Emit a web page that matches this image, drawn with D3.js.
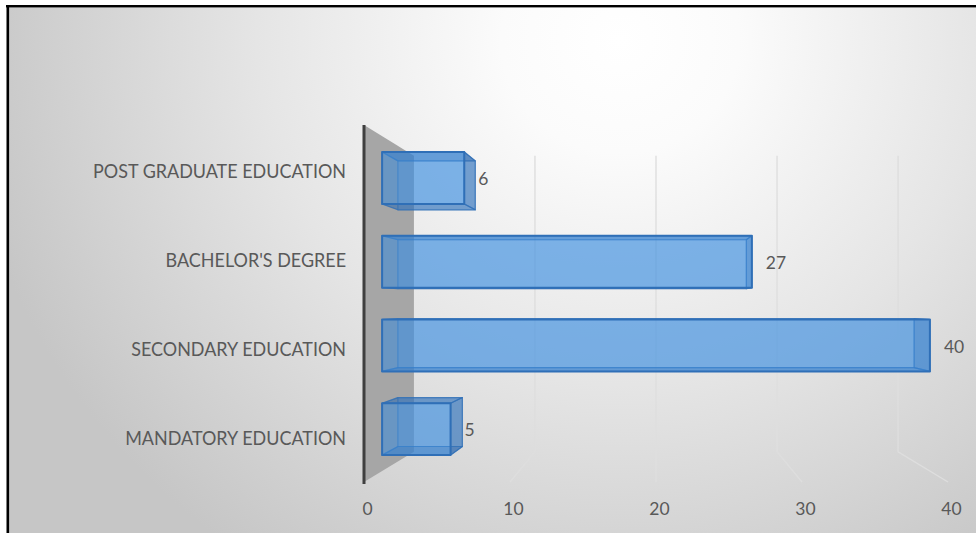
<!DOCTYPE html>
<html>
<head>
<meta charset="utf-8">
<script src="https://cdn.jsdelivr.net/npm/d3@7"></script>
<style>
  html, body { margin: 0; padding: 0; background: #ffffff; }
  svg { display: block; }
  text { font-family: Lato, "Open Sans", sans-serif; }
</style>
</head>
<body>
<svg id="chart" width="976" height="533"></svg>
<script>
// Education level counts
const categories = ["POST GRADUATE EDUCATION", "BACHELOR'S DEGREE", "SECONDARY EDUCATION", "MANDATORY EDUCATION"];
const values = [6, 27, 40, 5];
const ticks = [0, 10, 20, 30, 40];

const W = 976, H = 533;
const svg = d3.select("#chart");
const defs = svg.append("defs");

// --- perspective: points on the front plane are pulled toward the vanishing point
const vp = [656, 305];
const depth = { front: 1, back: 0.829, barFront: 0.938, barBack: 0.884 };
const proj = (px, py, s) => [vp[0] + (px - vp[0]) * s, vp[1] + (py - vp[1]) * s];

// scales expressed on the front plane
const x = d3.scaleLinear().domain([0, 40]).range([364, 948]);
const y = d3.scaleBand().domain(categories).range([125, 482]).paddingInner(0.38).paddingOuter(0.19);
const yTop = y.range()[0], yBot = y.range()[1];

// --- chart area background
const grad = defs.append("radialGradient")
  .attr("id", "bgGrad")
  .attr("gradientUnits", "userSpaceOnUse")
  .attr("cx", 620).attr("cy", 40).attr("r", 660)
  .attr("gradientTransform", "translate(620,40) scale(1,0.95) translate(-620,-40)");
[[0, "#ffffff"], [0.18, "#fbfbfb"], [0.55, "#e5e5e5"], [1, "#c6c6c6"]].forEach(([o, c]) =>
  grad.append("stop").attr("offset", o).attr("stop-color", c));

svg.append("rect").attr("x", 8).attr("y", 7).attr("width", W - 8).attr("height", H - 7)
  .attr("fill", "url(#bgGrad)");

// frame edges
svg.append("rect").attr("x", 6).attr("y", 5).attr("width", W - 6).attr("height", 2.4).attr("fill", "#000");
svg.append("rect").attr("x", 6.5).attr("y", 5).attr("width", 2.6).attr("height", H - 5).attr("fill", "#000");

const line = d3.line();

// --- left side wall at value 0
const x0 = x(0);
svg.append("path")
  .attr("d", line([proj(x0, yTop, depth.front), proj(x0, yTop, depth.back),
                   proj(x0, yBot, depth.back), proj(x0, yBot, depth.front)]) + "Z")
  .attr("fill", "#a6a6a6");

// --- gridlines on the back wall, folding onto the floor
svg.append("g").selectAll("path")
  .data(ticks.filter(t => t > 0))
  .join("path")
  .attr("d", t => line([proj(x(t), yTop, depth.back), proj(x(t), yBot, depth.back), proj(x(t), yBot, depth.front)]))
  .attr("fill", "none")
  .attr("stroke", "#dedede")
  .attr("stroke-width", 1.4);

// vertical category axis line
svg.append("line")
  .attr("x1", x0).attr("x2", x0).attr("y1", yTop).attr("y2", yBot + 2)
  .attr("stroke", "#3f3f3f").attr("stroke-width", 3);

// --- 3D transparent boxes
const barColor = "#3b8ee0";
const sideColor = "#2a68b0";
const edgeColor = "#2f6fb7";

const bars = svg.append("g");
categories.forEach((c, i) => {
  const v = values[i];
  const xa = x(0), xb = x(v), ya = y(c), yb = y(c) + y.bandwidth();
  const f = (px, py) => proj(px, py, depth.barFront);
  const b = (px, py) => proj(px, py, depth.barBack);
  const faces = [
    { pts: [b(xa, ya), b(xb, ya), b(xb, yb), b(xa, yb)], fill: barColor, op: 0.3, so: 0.35 },  // back
    { pts: [f(xa, ya), b(xa, ya), b(xa, yb), f(xa, yb)], fill: sideColor, op: 0.12, so: 0.35 }, // left end
    { pts: [f(xb, ya), b(xb, ya), b(xb, yb), f(xb, yb)], fill: sideColor, op: 0.5, so: 0.7 },   // right end
    { pts: [f(xa, ya), f(xb, ya), b(xb, ya), b(xa, ya)], fill: sideColor, op: 0.5, so: 0.7 },   // top
    { pts: [f(xa, yb), f(xb, yb), b(xb, yb), b(xa, yb)], fill: sideColor, op: 0.5, so: 0.7 },   // bottom
  ];
  const g = bars.append("g");
  g.selectAll("path.side").data(faces).join("path")
    .attr("class", "side")
    .attr("d", d => line(d.pts) + "Z")
    .attr("fill", d => d.fill)
    .attr("fill-opacity", d => d.op)
    .attr("stroke", edgeColor)
    .attr("stroke-opacity", d => d.so)
    .attr("stroke-width", 1.2)
    .attr("stroke-linejoin", "round");
  g.append("path")
    .attr("d", line([f(xa, ya), f(xb, ya), f(xb, yb), f(xa, yb)]) + "Z")
    .attr("fill", barColor)
    .attr("fill-opacity", 0.5)
    .attr("stroke", edgeColor)
    .attr("stroke-width", 2)
    .attr("stroke-linejoin", "round");

  // value label just past the front end of the bar
  const pEnd = f(xb, (ya + yb) / 2);
  g.append("text")
    .attr("x", pEnd[0] + 14)
    .attr("y", pEnd[1] + 1)
    .attr("dy", "0.36em")
    .attr("fill", "#595959")
    .attr("font-size", 17.5)
    .text(v);
});

// --- category labels (slightly condensed lettering)
const yAxis = svg.append("g")
  .attr("transform", "translate(352,2)")
  .call(d3.axisLeft(y).tickSize(0).tickPadding(6));
yAxis.select(".domain").remove();
yAxis.selectAll("text")
  .attr("fill", "#595959")
  .attr("font-size", 19)
  .style("font-family", "Lato, 'Open Sans', sans-serif")
  .each(function () {
    const len = this.getComputedTextLength();
    d3.select(this).attr("textLength", len * 0.945).attr("lengthAdjust", "spacingAndGlyphs");
  });

// --- value axis labels on the front plane
const xAxis = svg.append("g")
  .attr("transform", "translate(3,503)")
  .call(d3.axisBottom(x).tickValues(ticks).tickSize(0).tickPadding(0));
xAxis.select(".domain").remove();
xAxis.selectAll("text")
  .attr("fill", "#595959")
  .attr("font-size", 17.5)
  .style("font-family", "Lato, 'Open Sans', sans-serif");
</script>
</body>
</html>
